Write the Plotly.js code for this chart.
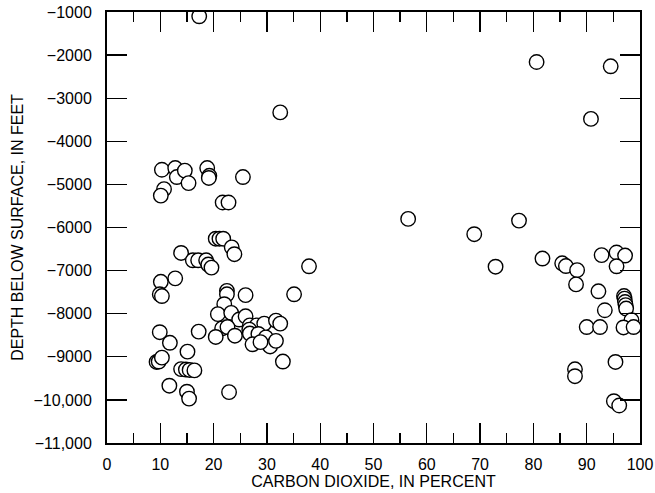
<!DOCTYPE html>
<html>
<head>
<meta charset="utf-8">
<script src="https://cdn.plot.ly/plotly-3.0.1.min.js"></script>
<style>html,body{margin:0;padding:0;background:#fff;}#chart{width:655px;height:493px;}</style>
</head>
<body>
<div id="chart"></div>
<script>
// Carbon dioxide (percent) and depth below surface (feet)
const co2Percent = [
  17.3, 32.5, 10.3, 12.8, 13.1, 14.6, 15.3, 18.8, 19.2, 19.1, 25.5, 10.7, 10.1,
  21.7, 22.8, 20.4, 21.1, 21.8, 23.4, 23.9, 13.9, 16.1, 17.1, 18.6, 19.0, 19.6,
  12.8, 10.1, 9.9, 10.3, 22.5, 22.5, 26.0, 35.1, 37.9, 56.5, 33.0,
  22.0, 20.8, 23.3, 24.8, 26.0, 26.8, 28.1, 29.5, 31.7, 32.5, 21.6, 22.6, 20.4,
  24.0, 26.7, 26.8, 28.4, 29.8, 27.3, 30.6, 31.7, 28.8,
  9.9, 11.8, 15.1, 17.2, 9.3, 9.7, 10.3, 13.9, 14.8, 15.5, 16.4, 11.7, 15.0, 15.4, 22.9,
  80.6, 94.5, 90.8, 68.9, 77.3, 72.9, 81.7, 85.4, 86.1, 88.2, 88.0, 92.8, 95.6,
  97.2, 95.6, 92.2, 97.0, 97.1, 97.2, 97.3, 97.4, 93.4, 98.4, 90.0, 92.5, 96.9,
  98.8, 95.4, 87.8, 87.8, 95.1, 96.1
];
const depthFeet = [
  -1100, -3330, -4660, -4620, -4830, -4680, -4970, -4620, -4800, -4850, -4830, -5110, -5260,
  -5420, -5420, -6260, -6260, -6260, -6460, -6620, -6590, -6760, -6760, -6760, -6860, -6930,
  -7180, -7260, -7550, -7590, -7470, -7550, -7570, -7550, -6900, -5800, -9110,
  -7780, -8010, -7980, -8135, -8060, -8270, -8270, -8230, -8160, -8230, -8340, -8310, -8540,
  -8510, -8370, -8460, -8470, -8550, -8710, -8760, -8630, -8660,
  -8430, -8675, -8880, -8415, -9120, -9110, -9020, -9285, -9295, -9305, -9315, -9670, -9810, -9970, -9820,
  -2160, -2260, -3480, -6155, -5840, -6910, -6720, -6830, -6895, -6990, -7320, -6640, -6580,
  -6650, -6900, -7480, -7590, -7650, -7730, -7800, -7880, -7920, -8150, -8310, -8310, -8320,
  -8310, -9120, -9290, -9450, -10030, -10130
];
const yTickVals = [-1000, -2000, -3000, -4000, -5000, -6000, -7000, -8000, -9000, -10000, -11000];
const yTickText = ["\u22121000", "\u22122000", "\u22123000", "\u22124000", "\u22125000", "\u22126000",
  "\u22127000", "\u22128000", "\u22129000", "\u221210,000", "\u221211,000"];
const xTickVals = [0, 10, 20, 30, 40, 50, 60, 70, 80, 90, 100];

const font = {family: "Liberation Sans, Arial, sans-serif", size: 16, color: "#000"};

const trace = {
  x: co2Percent,
  y: depthFeet,
  type: "scatter",
  mode: "markers",
  marker: {symbol: "circle", size: 14.5, color: "#fff", line: {color: "#000", width: 1.4}},
  hoverinfo: "x+y"
};

const layout = {
  width: 655, height: 493,
  margin: {l: 107, r: 15, t: 12, b: 50},
  paper_bgcolor: "#fff", plot_bgcolor: "#fff",
  font: font,
  showlegend: false,
  xaxis: {
    range: [0, 100],
    tickvals: xTickVals,
    ticks: "inside", ticklen: 20, tickwidth: 1.4, tickcolor: "#000",
    minor: {dtick: 5, tick0: 0, ticks: "inside", ticklen: 10, tickwidth: 1.4, tickcolor: "#000"},
    showline: true, linecolor: "#000", linewidth: 2, mirror: "ticks",
    showgrid: false, zeroline: false,
    ticklabelstandoff: 6,
    tickfont: font,
    title: {text: "CARBON DIOXIDE, IN PERCENT", font: font, standoff: 4}
  },
  yaxis: {
    range: [-11000, -1000],
    tickvals: yTickVals, ticktext: yTickText,
    ticks: "inside", ticklen: 20, tickwidth: 1.4, tickcolor: "#000",
    showline: true, linecolor: "#000", linewidth: 2, mirror: "ticks",
    showgrid: false, zeroline: false,
    ticklabelstandoff: 10,
    tickfont: font,
    title: {text: "DEPTH BELOW SURFACE, IN FEET", font: font, standoff: 6}
  }
};

Plotly.newPlot("chart", [trace], layout, {displayModeBar: false, staticPlot: true});
</script>
</body>
</html>
